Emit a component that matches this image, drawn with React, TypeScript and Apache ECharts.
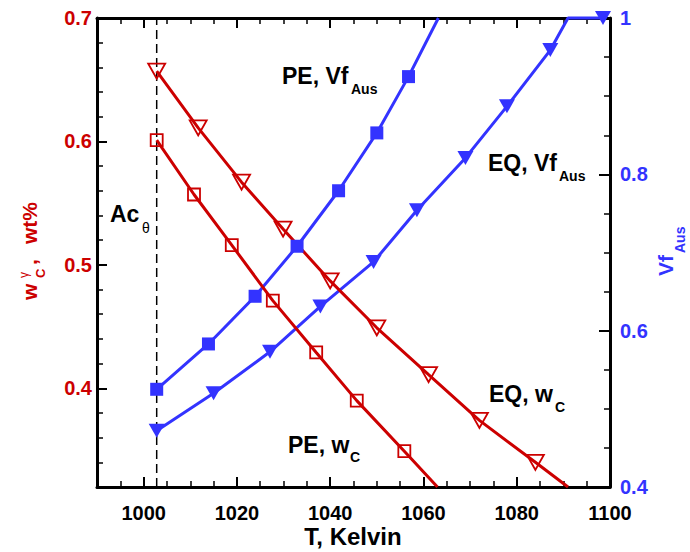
import React, { useEffect, useRef } from "react";
import * as echarts from "echarts";

const RED = "#cc0000";
const BLUE = "#3333ff";
const FONT = "Liberation Sans";

// Axis ranges and tick positions
const T_MIN = 990;
const T_MAX = 1100;
const WC_MIN = 0.32;
const WC_MAX = 0.7;
const VF_MIN = 0.4;
const VF_MAX = 1;
const tempTicks = [1000, 1020, 1040, 1060, 1080, 1100];
const wcTicks = [0.4, 0.5, 0.6, 0.7];
const vfTicks = [0.4, 0.6, 0.8, 1];

// Ac_theta temperature (dashed vertical line)
const AC_THETA = 1002.8;

// Carbon content of austenite, equilibrium (open down-triangles)
const eqWcTemp = [1002.8, 1011.7, 1021.0, 1029.9, 1040.0, 1050.0, 1061.1, 1072.0, 1084.0, 1091.0];
const eqWcVal = [0.657, 0.611, 0.567, 0.529, 0.487, 0.449, 0.411, 0.374, 0.340, 0.320];
const eqWcPlain = [9];

// Carbon content of austenite, para-equilibrium (open squares)
const peWcTemp = [1002.8, 1010.8, 1018.9, 1027.7, 1037.0, 1045.7, 1055.9, 1063.0];
const peWcVal = [0.601, 0.557, 0.516, 0.471, 0.429, 0.390, 0.349, 0.320];
const peWcPlain = [7];

// Austenite volume fraction, para-equilibrium (filled squares)
const peVfTemp = [1002.8, 1013.9, 1023.9, 1032.9, 1041.8, 1050.0, 1056.8, 1063.2];
const peVfVal = [0.525, 0.583, 0.644, 0.708, 0.779, 0.853, 0.925, 1.0];
const peVfPlain = [7];

// Austenite volume fraction, equilibrium (filled down-triangles)
const eqVfTemp = [1002.8, 1015.0, 1027.1, 1037.9, 1049.3, 1058.6, 1069.0, 1077.9, 1087.2, 1091.0, 1098.5];
const eqVfVal = [0.472, 0.520, 0.573, 0.631, 0.688, 0.754, 0.821, 0.887, 0.959, 1.0, 1.0];
const eqVfPlain = [9];

type Marker = {
  symbol: string;
  size: number | number[];
  rotate: number;
  fill: string;
  border: number;
};

function curve(
  name: string,
  temps: number[],
  vals: number[],
  plain: number[],
  yAxisIndex: number,
  color: string,
  m: Marker
) {
  return {
    type: "line",
    name,
    xAxisIndex: 0,
    yAxisIndex,
    data: temps.map((t, i) =>
      plain.includes(i) ? { value: [t, vals[i]], symbol: "none" } : { value: [t, vals[i]] }
    ),
    symbol: m.symbol,
    symbolSize: m.size,
    symbolRotate: m.rotate,
    showSymbol: true,
    showAllSymbol: true,
    lineStyle: { color, width: 3 },
    itemStyle: { color: m.fill, borderColor: color, borderWidth: m.border },
    emphasis: { disabled: true },
    clip: false,
    silent: true,
  };
}

function majorX(position: string, labels: boolean) {
  return {
    type: "value",
    position,
    min: T_MIN,
    max: T_MAX,
    axisLine: { show: true, onZero: false, lineStyle: { color: "#000", width: 3 } },
    axisTick: { show: true, inside: true, length: 10, customValues: tempTicks, lineStyle: { color: "#000", width: 2 } },
    axisLabel: {
      show: labels,
      customValues: tempTicks,
      formatter: (v: number) => (tempTicks.includes(v) ? String(v) : ""),
      color: "#000",
      fontSize: 20,
      fontWeight: "bold",
      fontFamily: FONT,
      margin: 16,
    },
    splitLine: { show: false },
  };
}

function minorAxis(position: string, min: number, max: number, interval: number, length: number) {
  return {
    type: "value",
    position,
    min,
    max,
    interval,
    axisLine: { show: false, onZero: false },
    axisTick: { show: true, inside: true, length, lineStyle: { color: "#000", width: 1.5 } },
    axisLabel: { show: false },
    splitLine: { show: false },
  };
}

function text(
  str: string,
  x: number,
  y: number,
  size: number,
  color: string,
  weight: string = "bold",
  align: string = "left"
) {
  return {
    type: "text",
    x,
    y,
    silent: true,
    style: {
      text: str,
      fill: color,
      fontSize: size,
      fontWeight: weight,
      fontFamily: FONT,
      align,
      verticalAlign: "middle",
    },
  };
}

export default function App() {
  const ref = useRef<HTMLDivElement>(null);

  useEffect(() => {
    document.body.style.margin = "0";
    if (!ref.current) return;
    const chart = echarts.init(ref.current, undefined, { renderer: "svg" });

    const option = {
      animation: false,
      backgroundColor: "#fff",
      grid: { left: 97, right: 80, top: 18, bottom: 65, containLabel: false, outerBoundsMode: "none" },
      xAxis: [
        majorX("bottom", true),
        minorAxis("bottom", T_MIN, T_MAX, 5, 6),
        majorX("top", false),
        minorAxis("top", T_MIN, T_MAX, 5, 6),
      ],
      yAxis: [
        {
          type: "value",
          position: "left",
          min: WC_MIN,
          max: WC_MAX,
          axisLine: { show: true, onZero: false, lineStyle: { color: "#000", width: 3 } },
          axisTick: { show: true, inside: true, length: 10, customValues: wcTicks, lineStyle: { color: "#000", width: 2 } },
          axisLabel: {
            customValues: wcTicks,
            formatter: (v: number) => (v < 0.35 ? "" : String(Number(v.toFixed(2)))),
            color: RED,
            fontSize: 20,
            fontWeight: "bold",
            fontFamily: FONT,
            margin: 5,
          },
          splitLine: { show: false },
        },
        minorAxis("left", WC_MIN, WC_MAX, 0.02, 6),
        {
          type: "value",
          position: "right",
          min: VF_MIN,
          max: VF_MAX,
          interval: 0.2,
          axisLine: { show: true, onZero: false, lineStyle: { color: "#000", width: 3 } },
          axisTick: { show: true, inside: true, length: 11, customValues: vfTicks, lineStyle: { color: "#000", width: 2 } },
          axisLabel: {
            customValues: vfTicks,
            formatter: (v: number) => String(Number(v.toFixed(2))),
            color: BLUE,
            fontSize: 20,
            fontWeight: "bold",
            fontFamily: FONT,
            margin: 10,
          },
          splitLine: { show: false },
        },
        minorAxis("right", VF_MIN, VF_MAX, 0.05, 6),
      ],
      series: [
        {
          type: "line",
          name: "Ac_theta",
          xAxisIndex: 0,
          yAxisIndex: 0,
          data: [
            [AC_THETA, WC_MIN],
            [AC_THETA, WC_MAX],
          ],
          symbol: "none",
          lineStyle: { color: "#000", width: 1.5, type: [9, 5] },
          emphasis: { disabled: true },
          silent: true,
        },
        curve("PE, Vf", peVfTemp, peVfVal, peVfPlain, 2, BLUE, {
          symbol: "rect",
          size: 13,
          rotate: 0,
          fill: BLUE,
          border: 0,
        }),
        curve("EQ, Vf", eqVfTemp, eqVfVal, eqVfPlain, 2, BLUE, {
          symbol: "triangle",
          size: [16, 14],
          rotate: 180,
          fill: BLUE,
          border: 0,
        }),
        curve("EQ, wC", eqWcTemp, eqWcVal, eqWcPlain, 0, RED, {
          symbol: "triangle",
          size: [17, 15],
          rotate: 180,
          fill: "rgba(0,0,0,0)",
          border: 1.8,
        }),
        curve("PE, wC", peWcTemp, peWcVal, peWcPlain, 0, RED, {
          symbol: "rect",
          size: 12,
          rotate: 0,
          fill: "rgba(0,0,0,0)",
          border: 1.8,
        }),
      ],
      graphic: [
        // curve annotations
        text("PE, Vf", 282, 75.5, 23, "#000"),
        text("Aus", 351, 89, 14, "#000"),
        text("EQ, Vf", 488, 163, 23, "#000"),
        text("Aus", 559, 176, 14, "#000"),
        text("EQ, w", 489, 394, 23, "#000"),
        text("C", 555, 407, 14, "#000"),
        text("PE, w", 288, 445, 23, "#000"),
        text("C", 350, 457, 14, "#000"),
        text("Ac", 110, 214, 23, "#000"),
        text("θ", 142, 228, 14, "#000", "normal"),
        // x axis title
        text("T, Kelvin", 353, 536, 24, "#000", "bold", "center"),
        // left axis title, reading upwards
        {
          type: "group",
          x: 29,
          y: 250,
          rotation: Math.PI / 2,
          silent: true,
          children: [
            text("w", -50, 0, 21, RED),
            text("γ", -28, -5, 12, RED, "normal"),
            text("C", -28, 11.5, 13, RED),
            text(",", -15, 0, 21, RED),
            text("wt%", 6, 0, 21, RED),
          ],
        },
        // right axis title, reading upwards
        {
          type: "group",
          x: 665,
          y: 251,
          rotation: Math.PI / 2,
          silent: true,
          children: [text("Vf", -25, 0, 21, BLUE), text("Aus", -2, 15, 14, BLUE)],
        },
      ],
    };

    chart.setOption(option as any);
    return () => chart.dispose();
  }, []);

  return <div ref={ref} style={{ width: 690, height: 552 }} />;
}
